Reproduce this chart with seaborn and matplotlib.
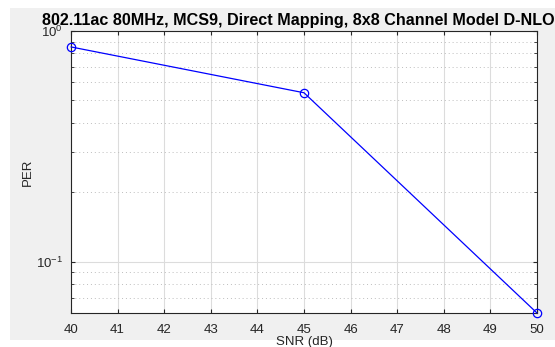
import matplotlib
matplotlib.use("Agg")
import matplotlib.pyplot as plt
import matplotlib.patches as mpatches
from matplotlib.ticker import LogLocator, NullFormatter, FixedLocator
import pandas as pd
import seaborn as sns

SNR_DB = [40, 45, 50]
PER = [0.853, 0.54, 0.06]
X_TICKS = list(range(40, 51))
TITLE = "802.11ac 80MHz, MCS9, Direct Mapping, 8x8 Channel Model D-NLOS"

sns.set_style("ticks")
plt.rcParams["font.family"] = ["Liberation Sans", "DejaVu Sans"]

df = pd.DataFrame({"SNR (dB)": SNR_DB, "PER": PER})

fig = plt.figure(figsize=(5.55, 3.47), dpi=100)
fig.patch.set_facecolor("white")
fig.patches.append(mpatches.Rectangle((10 / 555, 1 - 340 / 347), 1, 332 / 347,
                                      transform=fig.transFigure, facecolor="#f0f0f0",
                                      edgecolor="none", zorder=-10))
ax = fig.add_axes([71 / 555, 1 - 313 / 347, 466 / 555, 282 / 347])
ax.set_facecolor("white")

sns.lineplot(data=df, x="SNR (dB)", y="PER", ax=ax, color="#0000ff", linewidth=0.9,
             marker="o", markersize=6, markerfacecolor="none", markeredgecolor="#0000ff",
             markeredgewidth=0.9, clip_on=False, zorder=5)

ax.set_yscale("log")
ax.set_xlim(40, 50)
ax.set_ylim(0.06, 1)
ax.xaxis.set_major_locator(FixedLocator(X_TICKS))
ax.yaxis.set_major_locator(LogLocator(base=10))
ax.yaxis.set_minor_locator(LogLocator(base=10, subs=range(2, 10)))
ax.yaxis.set_minor_formatter(NullFormatter())

ax.grid(True, which="major", color="#dcdcdc", linewidth=0.8, linestyle="-")
ax.grid(True, which="minor", axis="y", color="#bdbdbd", linewidth=0.7, linestyle=(0, (1, 3)))
ax.set_axisbelow(True)

for side in ["left", "right", "top", "bottom"]:
    ax.spines[side].set_visible(True)
    ax.spines[side].set_color("#262626")
    ax.spines[side].set_linewidth(0.8)
ax.tick_params(which="both", direction="in", top=True, right=True, colors="#262626",
               labelcolor="#262626", labelsize=9.5)
ax.tick_params(which="major", length=3)
ax.tick_params(axis="x", which="major", pad=8)
ax.tick_params(axis="y", which="major", pad=6)
ax.tick_params(which="minor", length=2)

ax.set_xlabel("SNR (dB)", fontsize=9.5, color="#262626", labelpad=0)
ax.set_ylabel("PER", fontsize=9.5, color="#262626", labelpad=1)
ax.set_title(TITLE, fontsize=11.6, fontweight="bold", color="black", pad=4)

fig.savefig("out.png", dpi=100, facecolor=fig.get_facecolor())
